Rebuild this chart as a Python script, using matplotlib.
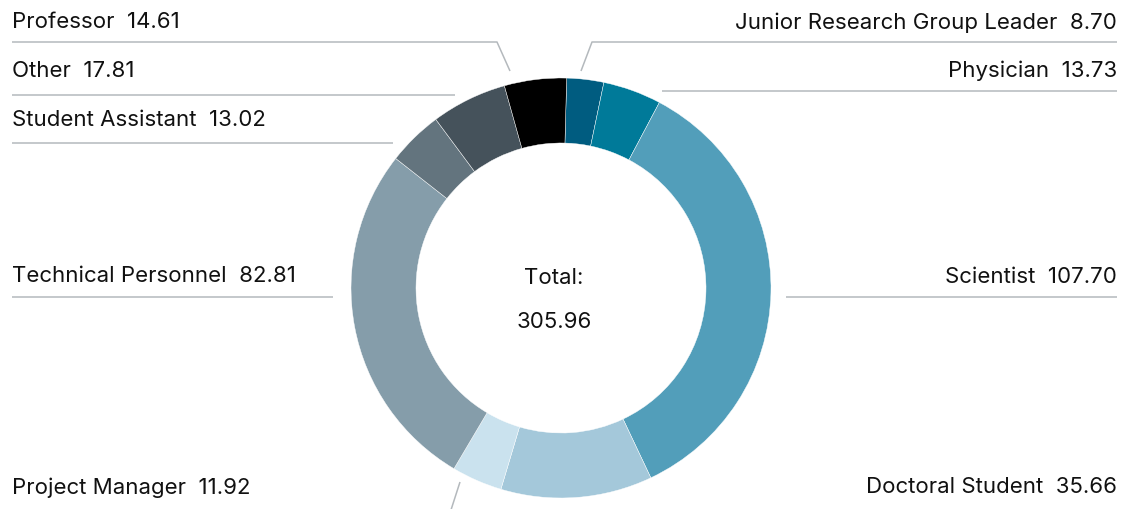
import matplotlib
matplotlib.use('Agg')
from matplotlib import pyplot as plt

plt.rcParams['font.family'] = ['Inter', 'DejaVu Sans']

# data, clockwise from the top
labels = ['Junior Research Group Leader', 'Physician', 'Scientist', 'Doctoral Student',
          'Project Manager', 'Technical Personnel', 'Student Assistant', 'Other', 'Professor']
values = [8.70, 13.73, 107.70, 35.66, 11.92, 82.81, 13.02, 17.81, 14.61]
colors = ['#005c80', '#007a99', '#529eba', '#a4c8da', '#cae2ee',
          '#859daa', '#63747e', '#45525b', '#000000']

W, H = 1124, 510
cx, cy, R = 561, 289, 210

fig = plt.figure(figsize=(W / 100, H / 100), dpi=100)
ax = fig.add_axes([0, 0, 1, 1])


def Y(y):
    # pixel row -> data y
    return H - y


ax.pie(values, colors=colors, radius=R, center=(cx, Y(cy)), startangle=88.45,
       counterclock=False, wedgeprops=dict(width=65, edgecolor='white', linewidth=0.3))

# label layout: (text x, baseline row, alignment, leader line points)
layout = {
    'Professor': (12, 28, 'left', [(12, 43), (497, 43), (510, 72)]),
    'Other': (12, 77, 'left', [(12, 96), (455, 96)]),
    'Student Assistant': (12, 126, 'left', [(12, 144), (393, 144)]),
    'Technical Personnel': (12, 282, 'left', [(12, 298), (333, 298)]),
    'Project Manager': (12, 494, 'left', [(460, 483), (450, 514)]),
    'Junior Research Group Leader': (1117, 29, 'right', [(1117, 43), (592, 43), (581, 72)]),
    'Physician': (1117, 77, 'right', [(1117, 92), (662, 92)]),
    'Scientist': (1117, 283, 'right', [(1117, 298), (786, 298)]),
    'Doctoral Student': (1117, 493, 'right', []),
}

fs = 16
for name, val in zip(labels, values):
    tx, ty, ha, pts = layout[name]
    ax.text(tx, Y(ty), f'{name}  {val:.2f}', ha=ha, va='baseline',
            fontsize=fs, color='#111111')
    if pts:
        ax.plot([p[0] for p in pts], [Y(p[1]) for p in pts], color='#b4b9bd',
                lw=1.1, solid_capstyle='butt')

total = sum(values)
ax.text(cx - 7, Y(284), 'Total:', ha='center', va='baseline', fontsize=fs, color='#111111')
ax.text(cx - 7, Y(328), f'{total:.2f}', ha='center', va='baseline', fontsize=fs, color='#111111')

ax.set_xlim(0, W)
ax.set_ylim(0, H)
ax.set_aspect('equal')
ax.axis('off')

fig.savefig('out.png', dpi=100)
